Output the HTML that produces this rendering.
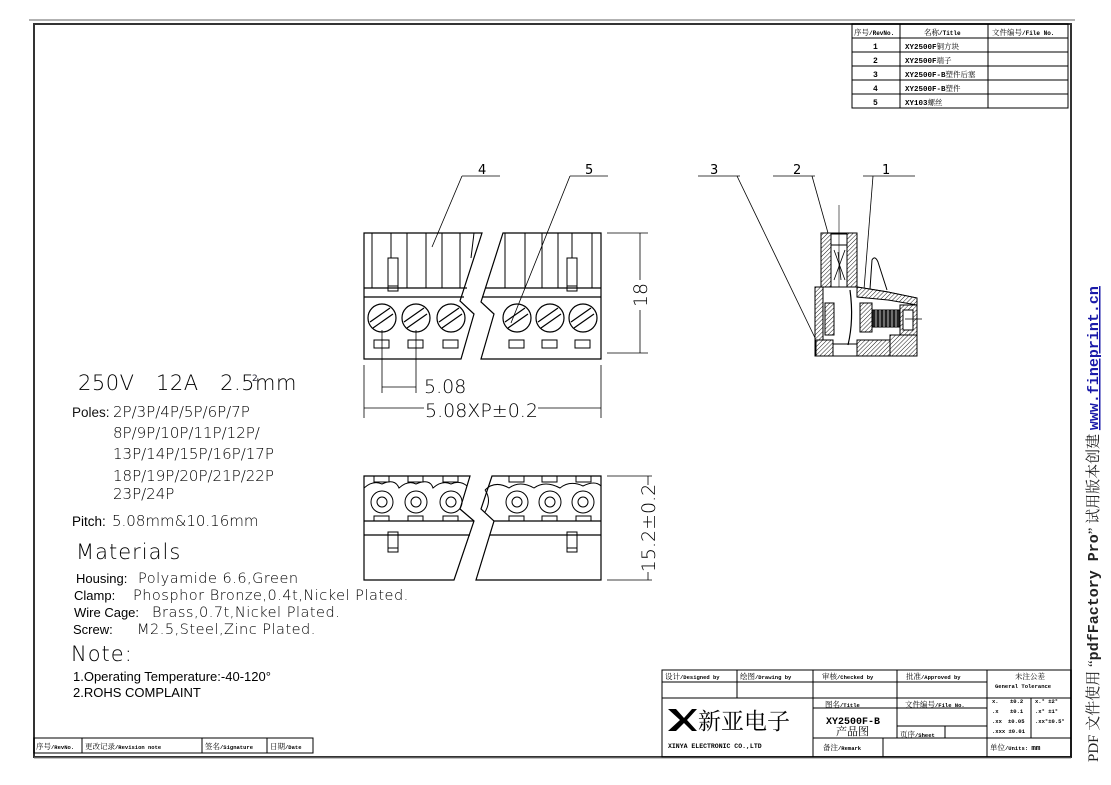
<!DOCTYPE html>
<html><head><meta charset="utf-8"><style>
html,body{margin:0;padding:0;background:#fff;}
svg{display:block;}
.cj{font-family:"Liberation Serif","Noto Serif CJK SC",serif;}
.lb{font-family:"Liberation Mono",monospace;font-weight:bold;}
.dt{font-family:"DejaVu Sans","Liberation Sans",sans-serif;}
</style></head><body>
<svg width="1111" height="785" viewBox="0 0 1111 785" xmlns="http://www.w3.org/2000/svg">
<defs>
<pattern id="h" width="3" height="3" patternUnits="userSpaceOnUse" patternTransform="rotate(45)">
<rect width="3" height="3" fill="#fff"/><line x1="0" y1="0" x2="0" y2="3" stroke="#000" stroke-width="0.9"/>
</pattern>
</defs>
<g fill="none" stroke="#000">
<line x1="29" y1="20" x2="1075" y2="20" stroke="#666" stroke-width="1"/>
<rect x="34" y="24" width="1037" height="733" stroke="#333" stroke-width="2"/>
<line x1="34" y1="758" x2="1071" y2="758" stroke="#888" stroke-width="1"/>

<g stroke-width="1">
<rect x="852" y="24" width="216" height="84"/>
<line x1="900" y1="24" x2="900" y2="108"/><line x1="988" y1="24" x2="988" y2="108"/>
<line x1="852" y1="38" x2="1068" y2="38"/><line x1="852" y1="52" x2="1068" y2="52"/>
<line x1="852" y1="66" x2="1068" y2="66"/><line x1="852" y1="80" x2="1068" y2="80"/>
<line x1="852" y1="94" x2="1068" y2="94"/>
</g>

<g stroke-width="1">
<rect x="34" y="738" width="279" height="15"/>
<line x1="82" y1="738" x2="82" y2="753"/><line x1="202" y1="738" x2="202" y2="753"/><line x1="267" y1="738" x2="267" y2="753"/>
</g>

<g stroke-width="1">
<rect x="662" y="670" width="409" height="87"/>
<line x1="737" y1="670" x2="737" y2="698"/>
<line x1="813" y1="670" x2="813" y2="757"/>
<line x1="897" y1="670" x2="897" y2="738"/>
<line x1="987" y1="670" x2="987" y2="757"/>
<line x1="662" y1="682" x2="987" y2="682"/>
<line x1="662" y1="698" x2="1071" y2="698"/>
<line x1="813" y1="708" x2="987" y2="708"/>
<line x1="897" y1="726" x2="987" y2="726"/>
<line x1="945" y1="726" x2="945" y2="738"/>
<line x1="813" y1="738" x2="1071" y2="738"/>
<line x1="883" y1="738" x2="883" y2="757"/>
<line x1="1031" y1="698" x2="1031" y2="738"/>
</g>

<g stroke-width="1.2">
<path d="M364,233 H482 L460,301 L474,314 L461,359 H364 Z"/>
<path d="M503,233 H601 V359 H481 L494,314 L481,302 Z"/>
<line x1="364" y1="288" x2="467" y2="288"/><line x1="364" y1="297" x2="464" y2="297"/>
<line x1="485" y1="288" x2="601" y2="288"/><line x1="482" y1="297" x2="601" y2="297"/>
<g stroke-width="1">
<line x1="372" y1="233" x2="372" y2="288"/><line x1="407" y1="233" x2="407" y2="288"/>
<line x1="426" y1="233" x2="426" y2="288"/><line x1="442" y1="233" x2="442" y2="288"/>
<line x1="460" y1="233" x2="460" y2="288"/><line x1="474" y1="233" x2="471" y2="258"/>
<line x1="505" y1="233" x2="505" y2="288"/><line x1="525" y1="233" x2="525" y2="288"/>
<line x1="542" y1="233" x2="542" y2="288"/><line x1="558" y1="233" x2="558" y2="288"/>
<line x1="592" y1="233" x2="592" y2="288"/>
<line x1="391" y1="233" x2="391" y2="258"/><line x1="572" y1="233" x2="572" y2="258"/>
<rect x="388" y="258" width="10" height="33"/><line x1="388" y1="286" x2="398" y2="286"/>
<rect x="567" y="258" width="10" height="33"/><line x1="567" y1="286" x2="577" y2="286"/>
</g>
<g id="sc">
<circle cx="382" cy="318" r="14"/>
<line x1="370" y1="322" x2="390" y2="308"/><line x1="373" y1="328" x2="393" y2="314"/>
<rect x="374" y="340" width="15" height="8" stroke-width="1"/>
</g>
<use href="#sc" x="34"/><use href="#sc" x="69"/>
<use href="#sc" x="135"/><use href="#sc" x="168"/><use href="#sc" x="201"/>
</g>
<g stroke-width="0.8">
<line x1="607" y1="233" x2="648" y2="233"/><line x1="607" y1="353" x2="648" y2="353"/>
<line x1="640" y1="233" x2="640" y2="280"/><line x1="640" y1="310" x2="640" y2="353"/>
<line x1="382" y1="330" x2="382" y2="393"/><line x1="416" y1="330" x2="416" y2="393"/>
<line x1="382" y1="387" x2="416" y2="387"/>
<line x1="364" y1="365" x2="364" y2="418"/><line x1="601" y1="365" x2="601" y2="418"/>
<line x1="364" y1="408" x2="424" y2="408"/><line x1="538" y1="408" x2="601" y2="408"/>
<line x1="462" y1="176" x2="500" y2="176"/><line x1="462" y1="176" x2="432" y2="247"/>
<line x1="570" y1="176" x2="608" y2="176"/><line x1="570" y1="176" x2="511" y2="323"/>
<line x1="698" y1="176" x2="740" y2="176"/><line x1="737" y1="176" x2="817" y2="342"/>
<line x1="773" y1="176" x2="815" y2="176"/><line x1="812" y1="176" x2="828" y2="233"/>
<line x1="863" y1="176" x2="915" y2="176"/><line x1="873" y1="176" x2="863" y2="302"/>
</g>

<g stroke-width="1.2">
<path d="M364,476 H470 L460,509 L474,521 L454,580 H364 Z"/>
<path d="M492,476 H601 V580 H476 L494,521 L481,509 Z"/>
<line x1="364" y1="521" x2="474" y2="521"/><line x1="494" y1="521" x2="601" y2="521"/>
<line x1="364" y1="535" x2="470" y2="535"/><line x1="490" y1="535" x2="601" y2="535"/>
<g stroke-width="1">
<path d="M364,488 Q373,480 382,484 Q395,478 399,488 Q408,480 416,484 Q430,478 433,488 Q442,480 451,484 Q460,480 467,486"/>
<path d="M485,490 Q495,480 509,488 Q520,480 534,488 Q545,480 560,488 Q570,480 583,486 Q595,480 601,486"/>
<rect x="374" y="476" width="15" height="6"/><rect x="408" y="476" width="15" height="6"/><rect x="443" y="476" width="15" height="6"/>
<rect x="509" y="476" width="15" height="6"/><rect x="542" y="476" width="15" height="6"/><rect x="576" y="476" width="15" height="6"/>
<rect x="374" y="516" width="15" height="5"/><rect x="408" y="516" width="15" height="5"/><rect x="443" y="516" width="15" height="5"/>
<rect x="509" y="516" width="15" height="5"/><rect x="542" y="516" width="15" height="5"/><rect x="576" y="516" width="15" height="5"/>
<rect x="388" y="532" width="10" height="20"/><line x1="388" y1="548" x2="398" y2="548"/>
<rect x="567" y="532" width="10" height="20"/><line x1="567" y1="548" x2="577" y2="548"/>
<path d="M485,490 Q492,500 485,512"/>
</g>
<g stroke-width="1">
<circle cx="382" cy="502" r="11"/><circle cx="382" cy="502" r="5"/>
<circle cx="416" cy="502" r="11"/><circle cx="416" cy="502" r="5"/>
<circle cx="451" cy="502" r="11"/><circle cx="451" cy="502" r="5"/>
<circle cx="517" cy="502" r="11"/><circle cx="517" cy="502" r="5"/>
<circle cx="550" cy="502" r="11"/><circle cx="550" cy="502" r="5"/>
<circle cx="583" cy="502" r="11"/><circle cx="583" cy="502" r="5"/>
</g>
</g>
<g stroke-width="0.8">
<line x1="607" y1="476" x2="652" y2="476"/><line x1="607" y1="580" x2="652" y2="580"/>
<line x1="648" y1="476" x2="648" y2="485"/><line x1="648" y1="572" x2="648" y2="580"/>
</g>

<g stroke-width="1">
<path d="M821,233 H857 V287 H821 Z" fill="url(#h)"/>
<rect x="831" y="234" width="16" height="53" fill="#fff"/>
<line x1="831" y1="245" x2="847" y2="245"/>
<path d="M834,250 L845,280 M845,250 L834,280 M838,252 L841,280" stroke-width="0.8"/>
<line x1="839" y1="205" x2="839" y2="300" stroke-width="0.6"/>
<path d="M815,287 H857 L888,292 L917,298 V356 H815 Z" fill="#fff"/>
<path d="M857,287 L888,292 L917,298 L917,305 L888,300 L857,297 Z" fill="url(#h)"/>
<rect x="815" y="287" width="8" height="69" fill="url(#h)"/>
<rect x="825" y="303" width="9" height="32" fill="url(#h)"/>
<rect x="860" y="303" width="12" height="29" fill="url(#h)"/>
<rect x="872" y="310" width="28" height="17" fill="#222"/>
<g stroke="#fff" stroke-width="0.7"><line x1="876" y1="310" x2="876" y2="327"/><line x1="880" y1="310" x2="880" y2="327"/><line x1="884" y1="310" x2="884" y2="327"/><line x1="888" y1="310" x2="888" y2="327"/><line x1="892" y1="310" x2="892" y2="327"/><line x1="896" y1="310" x2="896" y2="327"/></g>
<rect x="900" y="305" width="17" height="30" fill="url(#h)"/>
<rect x="903" y="310" width="10" height="20" fill="#fff"/>
<line x1="905" y1="319" x2="922" y2="319" stroke-width="0.7"/>
<rect x="816" y="340" width="17" height="16" fill="url(#h)"/>
<rect x="857" y="340" width="33" height="16" fill="url(#h)"/>
<path d="M890,335 H917 V356 H890 Z" fill="url(#h)"/>
<path d="M833,344 H857 V356 H833 Z" fill="#fff"/>
<path d="M850,290 Q854,320 848,345" stroke-width="1.2"/>
<path d="M870,289 L872,260 Q875,255 878,262 L887,290" fill="none"/>
</g>
</g>

<g fill="#000">
<g class="cj" font-size="7.5">
<text x="854" y="35">序号<tspan class="lb" font-size="6">/RevNo.</tspan></text>
<text x="924" y="35">名称<tspan class="lb" font-size="6">/Title</tspan></text>
<text x="992" y="35">文件编号<tspan class="lb" font-size="6">/File No.</tspan></text>
</g>
<g class="lb" font-size="8">
<text x="873" y="49">1</text><text x="873" y="63">2</text><text x="873" y="77">3</text><text x="873" y="91">4</text><text x="873" y="105">5</text>
<text x="905" y="49" font-size="7.5">XY2500F<tspan class="cj" font-weight="normal">铜方块</tspan></text>
<text x="905" y="63" font-size="7.5">XY2500F<tspan class="cj" font-weight="normal">端子</tspan></text>
<text x="905" y="77" font-size="7.5">XY2500F-B<tspan class="cj" font-weight="normal">塑件后塞</tspan></text>
<text x="905" y="91" font-size="7.5">XY2500F-B<tspan class="cj" font-weight="normal">塑件</tspan></text>
<text x="905" y="105" font-size="7.5">XY103<tspan class="cj" font-weight="normal">螺丝</tspan></text>
</g>

<g class="cj" font-size="7.5">
<text x="36" y="749">序号<tspan class="lb" font-size="5.5">/RevNo.</tspan></text>
<text x="85" y="749">更改记录<tspan class="lb" font-size="5.5">/Revision note</tspan></text>
<text x="205" y="749">签名<tspan class="lb" font-size="5.5">/Signature</tspan></text>
<text x="270" y="749">日期<tspan class="lb" font-size="5.5">/Date</tspan></text>

<text x="665" y="679">设计<tspan class="lb" font-size="5.5">/Designed by</tspan></text>
<text x="740" y="679">绘图<tspan class="lb" font-size="5.5">/Drawing by</tspan></text>
<text x="822" y="679">审核<tspan class="lb" font-size="5.5">/Checked by</tspan></text>
<text x="906" y="679">批准<tspan class="lb" font-size="5.5">/Approved by</tspan></text>
<text x="1015" y="679">未注公差</text>
<text x="995" y="688" class="lb" font-size="5.5">General Tolerance</text>
<text x="825" y="707">图名<tspan class="lb" font-size="5.5">/Title</tspan></text>
<text x="905" y="707">文件编号<tspan class="lb" font-size="5.5">/File No.</tspan></text>
<text x="900" y="737">页序<tspan class="lb" font-size="5.5">/Sheet</tspan></text>
<text x="823" y="750">备注<tspan class="lb" font-size="5.5">/Remark</tspan></text>
<text x="990" y="750">单位<tspan class="lb" font-size="5.5">/Units: </tspan><tspan class="lb" font-size="7.5">mm</tspan></text>
<text x="836" y="735" font-size="11">产品图</text>
<text x="698" y="729" font-size="23">新亚电子</text>
</g>
<text x="826" y="724" class="lb" font-size="10">XY2500F-B</text>
<text x="668" y="748" class="lb" font-size="6.5">XINYA ELECTRONIC CO.,LTD</text>
<path d="M668,709 L676,709 L684,718 L692,709 L697,709 L687,720 L697,731 L692,731 L684,723 L676,731 L668,731 L680,720 Z" fill="#000"/>
<g class="lb" font-size="5.5">
<text x="992" y="703">x.</text><text x="1010" y="703">±0.2</text>
<text x="992" y="713">.x</text><text x="1010" y="713">±0.1</text>
<text x="992" y="723">.xx</text><text x="1008" y="723">±0.05</text>
<text x="992" y="733">.xxx ±0.01</text>
<text x="1035" y="703">x.° ±2°</text>
<text x="1035" y="713">.x° ±1°</text>
<text x="1035" y="723">.xx°±0.5°</text>
</g>

<g class="dt" font-size="13">
<text x="478" y="174">4</text><text x="585" y="174">5</text>
<text x="710" y="174">3</text><text x="793" y="174">2</text><text x="882" y="174">1</text>
</g>
<g class="dt" font-size="19" font-weight="200">
<text x="424" y="393">5.08</text>
<text x="425" y="417">5.08XP±0.2</text>
<text transform="translate(647,295) rotate(-90)" text-anchor="middle">18</text>
<text transform="translate(655,528) rotate(-90)" text-anchor="middle">15.2±0.2</text>
</g>

<g class="dt">
<text x="78" y="390" font-size="21" font-weight="200" letter-spacing="0.5">250V&#160;&#160;&#160;12A&#160;&#160;&#160;2.5mm</text>
<text x="252" y="381" font-size="9" fill="#223">2</text>
<text x="72" y="417" font-size="13.5" fill="#111" font-family="Liberation Sans,sans-serif">Poles:</text>
<g font-size="15" font-weight="200">
<text x="113" y="417">2P/3P/4P/5P/6P/7P</text>
<text x="113" y="438">8P/9P/10P/11P/12P/</text>
<text x="113" y="459">13P/14P/15P/16P/17P</text>
<text x="113" y="481">18P/19P/20P/21P/22P</text>
<text x="113" y="499">23P/24P</text>
<text x="112" y="526">5.08mm&amp;10.16mm</text>
</g>
<text x="72" y="526" font-size="13.5" font-family="Liberation Sans,sans-serif">Pitch:</text>
<text x="76" y="559" font-size="21" font-weight="200" letter-spacing="1">Materials</text>
<g font-size="13" font-family="Liberation Sans,sans-serif">
<text x="76" y="583">Housing:</text><text x="74" y="600">Clamp:</text>
<text x="74" y="617">Wire Cage:</text><text x="73" y="634">Screw:</text>
<text x="73" y="681">1.Operating Temperature:-40-120°</text>
<text x="73" y="697">2.ROHS COMPLAINT</text>
</g>
<g font-size="14.5" font-weight="200" letter-spacing="0.5">
<text x="138" y="583">Polyamide 6.6,Green</text>
<text x="133" y="600">Phosphor Bronze,0.4t,Nickel Plated.</text>
<text x="152" y="617">Brass,0.7t,Nickel Plated.</text>
<text x="137" y="634">M2.5,Steel,Zinc Plated.</text>
</g>
<text x="71" y="661" font-size="21" font-weight="200" letter-spacing="1">Note:</text>
</g>

<text transform="translate(1098,762) rotate(-90)" class="cj" font-size="15" fill="#222">PDF 文件使用 “<tspan class="lb">pdfFactory Pro</tspan>” 试用版本创建 <tspan class="lb" fill="#1a1aa8" text-decoration="underline">www.fineprint.cn</tspan></text>
</g>
</svg>
</body></html>
